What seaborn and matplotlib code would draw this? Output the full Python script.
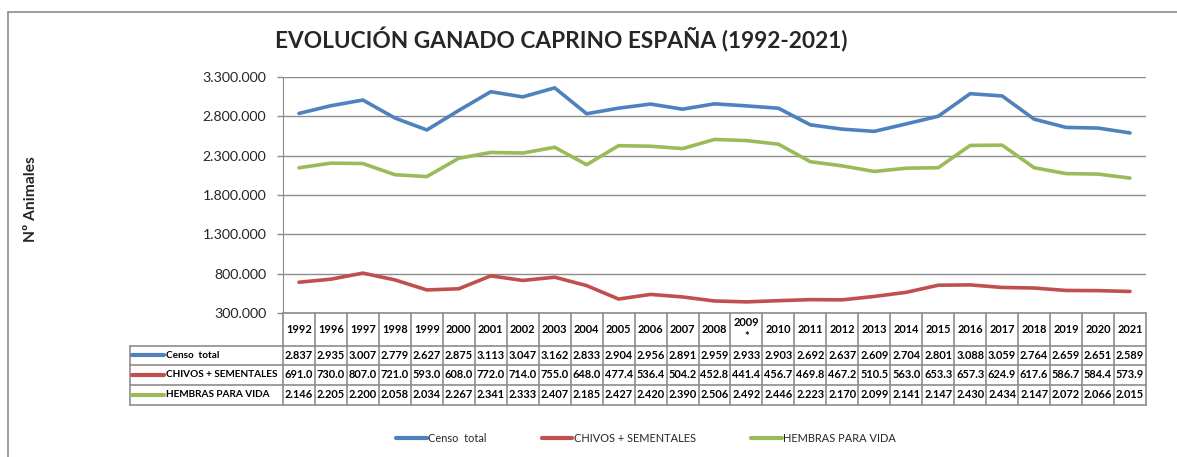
"""
Evolucion ganado caprino Espana (1992-2021): lineas + tabla de datos
"""

import numpy as np
import pandas as pd
import matplotlib
matplotlib.use("Agg")
import matplotlib.pyplot as plt
from matplotlib.lines import Line2D
from matplotlib.ticker import FuncFormatter
import seaborn as sns

# datos (miles de animales)
years = ['1992', '1996', '1997', '1998', '1999', '2000', '2001', '2002', '2003', '2004',
         '2005', '2006', '2007', '2008', '2009\n*', '2010', '2011', '2012', '2013', '2014',
         '2015', '2016', '2017', '2018', '2019', '2020', '2021']
censo = [2837, 2935, 3007, 2779, 2627, 2875, 3113, 3047, 3162, 2833,
         2904, 2956, 2891, 2959, 2933, 2903, 2692, 2637, 2609, 2704,
         2801, 3088, 3059, 2764, 2659, 2651, 2589]
chivos = [691.0, 730.0, 807.0, 721.0, 593.0, 608.0, 772.0, 714.0, 755.0, 648.0,
          477.4, 536.4, 504.2, 452.8, 441.4, 456.7, 469.8, 467.2, 510.5, 563.0,
          653.3, 657.3, 624.9, 617.6, 586.7, 584.4, 573.9]
hembras = [2146, 2205, 2200, 2058, 2034, 2267, 2341, 2333, 2407, 2185,
           2427, 2420, 2390, 2506, 2492, 2446, 2223, 2170, 2099, 2141,
           2147, 2430, 2434, 2147, 2072, 2066, 2015]

series_names = ['Censo  total', 'CHIVOS + SEMENTALES', 'HEMBRAS PARA VIDA']
colors = ['#4F81BD', '#C0504D', '#9BBB59']
yticks = [300000, 800000, 1300000, 1800000, 2300000, 2800000, 3300000]

sns.set_style("white")
plt.rcParams['font.family'] = ['Lato', 'DejaVu Sans']

W, H = 1177, 457
fig = plt.figure(figsize=(W / 100, H / 100), dpi=100)


def fx(px):
    return px / W


def fy(py):
    return 1 - py / H


n = len(years)
df = pd.DataFrame({
    'x': np.tile(np.arange(n), 3),
    'valor': np.concatenate([np.array(censo) * 1000, np.array(chivos) * 1000,
                             np.array(hembras) * 1000]),
    'serie': np.repeat(series_names, n),
})

# grafico principal
x0, x1, ytop, ybot = 283, 1146, 77, 313
ax = fig.add_axes([fx(x0), fy(ybot), fx(x1) - fx(x0), fy(ytop) - fy(ybot)])
sns.lineplot(data=df, x='x', y='valor', hue='serie', palette=colors,
             linewidth=2.6, ax=ax, legend=False)
ax.set_xlim(-0.5, n - 0.5)
ax.set_ylim(yticks[0], yticks[-1])
ax.set_yticks(yticks)
ax.yaxis.set_major_formatter(FuncFormatter(lambda v, p: f"{int(v):,}".replace(',', '.')))
ax.set_xticks([])
ax.set_xlabel('')
ax.set_ylabel('')
ax.grid(axis='y', color='#8c8c8c', linewidth=1)
for s in ['top', 'right', 'bottom']:
    ax.spines[s].set_visible(False)
ax.spines['left'].set_color('#8c8c8c')
ax.tick_params(axis='y', direction='out', length=4, width=1, color='#8c8c8c',
               pad=8, labelsize=10.2, left=True)

# tabla de datos
tx0, rows = 130, [313, 346, 365, 385, 405]
tax = fig.add_axes([fx(tx0), fy(rows[-1]), fx(x1) - fx(tx0), fy(rows[0]) - fy(rows[-1])])
colw = (x1 - x0) / n
xl = -0.5 - (x0 - tx0) / colw
tax.set_xlim(xl, n - 0.5)
tax.set_ylim(rows[-1], rows[0])
tax.axis('off')
bc = '#8c8c8c'

# bordes
for i in range(n + 1):
    tax.plot([i - 0.5, i - 0.5], [rows[0], rows[-1]], color=bc, lw=1.2, clip_on=False)
tax.plot([xl, xl], [rows[1], rows[-1]], color=bc, lw=1.2, clip_on=False)
tax.plot([-0.5, n - 0.5], [rows[0], rows[0]], color=bc, lw=1.2, clip_on=False)
for r in rows[1:]:
    tax.plot([xl, n - 0.5], [r, r], color=bc, lw=1.2, clip_on=False)

tkw = dict(ha='center', va='center', fontsize=7.9, fontweight='bold', color='black')
for i, y in enumerate(years):
    tax.text(i, (rows[0] + rows[1]) / 2, y, linespacing=1.3, **tkw)

table_vals = [[f"{v / 1000:.3f}" for v in censo],
              [f"{v:.1f}" for v in chivos],
              [f"{v / 1000:.3f}" for v in hembras]]
for r, (name, col, vals) in enumerate(zip(series_names, colors, table_vals)):
    yc = (rows[r + 1] + rows[r + 2]) / 2
    for i, v in enumerate(vals):
        tax.text(i, yc, v, **tkw)
    tax.plot([xl + 0.07, xl + 1.05], [yc, yc], color=col, lw=3, solid_capstyle='round')
    tax.text(xl + 1.14, yc, name, ha='left', va='center', fontsize=7.2,
             fontweight='bold', color='black')

# titulo, eje y, leyenda
fig.text(fx(561), fy(40), 'EVOLUCIÓN GANADO CAPRINO ESPAÑA (1992-2021)',
         ha='center', va='center', fontsize=16.3, fontweight='bold')
fig.text(fx(31), fy(199), 'Nº Animales', rotation=90, ha='center', va='center',
         fontsize=11.2, fontweight='bold')

handles = [Line2D([], [], color=c, lw=3) for c in colors]
fig.legend(handles, series_names, loc='center', bbox_to_anchor=(fx(646), fy(438)),
           ncol=3, frameon=False, fontsize=7.9, handlelength=2.8, handletextpad=0.15,
           columnspacing=5.0)

# marco del grafico
fig.add_artist(Line2D([fx(8), fx(8)], [0, fy(12)], color='#8c8c8c', lw=1.2))
fig.add_artist(Line2D([fx(8), 1], [fy(12), fy(12)], color='#8c8c8c', lw=1.2))

fig.savefig('out.png', dpi=100)
